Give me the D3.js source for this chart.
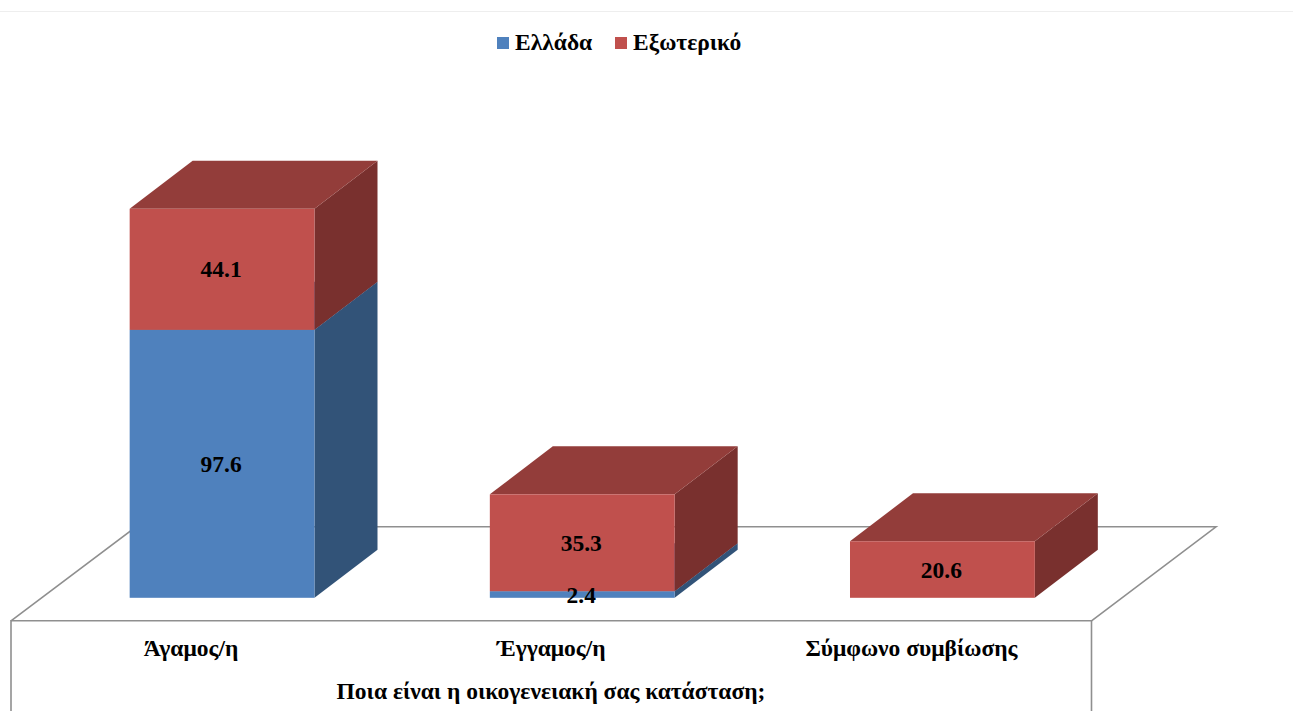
<!DOCTYPE html>
<html lang="el">
<head>
<meta charset="utf-8">
<script src="https://cdn.jsdelivr.net/npm/d3@7"></script>
<style>
html,body{margin:0;padding:0;background:#fff;overflow:hidden}
text{font-family:"Liberation Serif","Times New Roman",serif;font-weight:700;fill:#000}
</style>
</head>
<body>
<svg id="c" width="1293" height="711"></svg>
<script>
const categories = ["Άγαμος/η", "Έγγαμος/η", "Σύμφωνο συμβίωσης"];
const seriesNames = ["Ελλάδα", "Εξωτερικό"];
const elladaValues = [97.6, 2.4, 0];
const exoterikoValues = [44.1, 35.3, 20.6];
const axisTitle = "Ποια είναι η οικογενειακή σας κατάσταση;";

const faceColors = ["#4f81bd", "#c0504d"];
const topColors = ["#3f6797", "#933d3a"];
const sideColors = ["#325378", "#79302e"];

const svg = d3.select("#c");
const depthX = 63, depthY = 48;
const floorY = 620.8, baseY = 597.8, backY = 526.8;
const fontSize = 23.5;

const x = d3.scaleBand().domain(categories).range([11, 1091.5]).paddingInner(0.4868).paddingOuter(0.2434);
const y = d3.scaleLinear().domain([0, 141.7]).range([baseY, 208.8]);
const barShift = 31;

// page rule
svg.append("line").attr("x1", 0).attr("x2", 1293).attr("y1", 11.5).attr("y2", 11.5).attr("stroke", "#eeeeee");

// floor
const grid = svg.append("g").attr("fill", "none").attr("stroke", "#8f8f8f").attr("stroke-width", 1.6);
grid.append("path").attr("d", `M11,711V${floorY}H1091.5V711`);
grid.append("path").attr("d", `M11,${floorY}L${11 + 125},${backY}H1216L1091.5,${floorY}`);

// stacked boxes
const stack = d3.stack().keys([0, 1]).value((d, k) => d[k]);
const rows = categories.map((c, i) => [elladaValues[i], exoterikoValues[i]]);
const layers = stack(rows);

const gBars = svg.append("g");
layers.forEach((layer, s) => {
  layer.forEach((d, i) => {
    if (d[1] - d[0] <= 0) return;
    const x0 = x(categories[i]) + barShift, x1 = x0 + x.bandwidth();
    const yb = y(d[0]), yt = y(d[1]);
    const g = gBars.append("g");
    g.append("polygon").attr("fill", sideColors[s])
      .attr("points", [[x1, yb], [x1 + depthX, yb - depthY], [x1 + depthX, yt - depthY], [x1, yt]].join(" "));
    g.append("polygon").attr("fill", topColors[s])
      .attr("points", [[x0, yt], [x0 + depthX, yt - depthY], [x1 + depthX, yt - depthY], [x1, yt]].join(" "));
    g.append("rect").attr("x", x0).attr("y", yt).attr("width", x.bandwidth()).attr("height", yb - yt).attr("fill", faceColors[s]);
  });
});

// value labels
layers.forEach((layer, s) => {
  layer.forEach((d, i) => {
    if (d[1] - d[0] <= 0) return;
    const value = s === 0 ? elladaValues[i] : exoterikoValues[i];
    svg.append("text")
      .attr("x", x(categories[i]) + barShift + x.bandwidth() / 2 - 1)
      .attr("y", (y(d[0]) + y(d[1])) / 2 + 8)
      .attr("text-anchor", "middle").attr("font-size", fontSize)
      .text(value.toFixed(1));
  });
});

// category labels
categories.forEach(c => {
  svg.append("text").attr("x", x(c) + x.bandwidth() / 2).attr("y", 656)
    .attr("text-anchor", "middle").attr("font-size", fontSize).text(c);
});
svg.append("text").attr("x", 551).attr("y", 699).attr("text-anchor", "middle").attr("font-size", fontSize).text(axisTitle);

// legend
const legendX = [497, 615], legendTextX = [515, 633];
seriesNames.forEach((n, i) => {
  svg.append("rect").attr("x", legendX[i]).attr("y", 37).attr("width", 12).attr("height", 12).attr("fill", faceColors[i]);
  svg.append("text").attr("x", legendTextX[i]).attr("y", 50).attr("font-size", fontSize).text(n);
});
</script>
</body>
</html>
